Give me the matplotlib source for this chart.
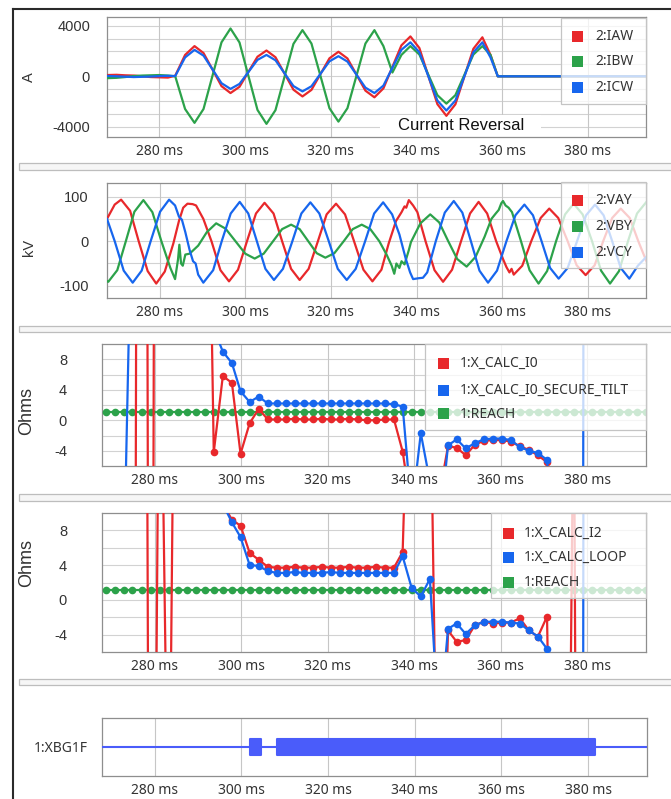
import matplotlib
matplotlib.use("Agg")
import matplotlib.pyplot as plt
from matplotlib.patches import Rectangle

W, H = 671, 799

# %% Data

X_TICKS = [280, 300, 320, 340, 360, 380]

# Panel 1 - currents (A)
T_CUR = [267.7, 270, 272, 274, 276, 278, 280, 282, 283.7, 286.0,
         288.2, 290.3, 292.4, 294.5, 296.6, 298.7, 300.8, 302.9, 305.0, 307.1,
         309.2, 311.3, 313.4, 315.5, 317.6, 319.7, 321.8, 323.9, 326.0, 328.1,
         330.2, 332.3, 334.4, 336.5, 338.6, 340.7, 342.8, 344.9, 347.0, 349.1,
         351.2, 353.3, 355.4, 357.3, 359.0, 393.7]
IAW = [100, 120, 80, 60, 0, -60, -80, -100, 50, 1700,
       2400, 1850, 540, -780, -1330, -835, 360, 1555, 2050, 1515,
       225, -1065, -1600, -1080, 175, 1430, 1950, 1420, 140, -1140,
       -1670, -960, 750, 2460, 3170, 2245, 15, -2215, -3140, -2226,
       -20, 2186, 3100, 1700, 0, 0]
IBW = [-150, -120, -60, 20, 60, 80, 100, 60, 0, -2600,
       -3700, -2600, 50, 2700, 3800, 2690, 10, -2670, -3780, -2690,
       -55, 2580, 3670, 2605, 35, -2535, -3600, -2535, 35, 2605,
       3670, 2400, 300, 1700, 2400, 1730, 115, -1500, -2170, -1500,
       115, 1730, 2400, 1700, 0, 0]
ICW = [30, 0, -30, -60, -40, -20, 20, 40, 20, 1500,
       2100, 1645, 550, -546, -1000, -605, 350, 1305, 1700, 1275,
       250, -775, -1200, -790, 200, 1190, 1600, 1170, 135, -900,
       -1330, -740, 685, 2110, 2700, 1906, -10, -1926, -2720, -1926,
       -10, 1906, 2700, 1500, 0, 0]

# Panel 2 - voltages (kV), (ms, kV) pairs
VAY = [(267.7, 50), (269.5, 82), (271.0, 93), (273.1, 68), (275.1, 0), (277.2, -67),
       (279.2, -95), (281.2, -68), (283.2, -5), (284.5, 45), (285.5, 75), (286.5, 84),
       (287.7, 83), (288.5, 80), (290.2, 50), (292.1, 0), (294.2, -65), (296.2, -90),
       (298.3, -64), (300.4, 0), (302.5, 62), (304.5, 86), (306.6, 62), (308.6, 0),
       (310.7, -62), (312.7, -87), (314.8, -62), (316.9, -2), (319.0, 60), (321.2, 84),
       (323.3, 60), (325.4, 0), (327.6, -64), (329.7, -90), (331.8, -64), (333.5, -5),
       (335.2, 45), (336.5, 65), (337.2, 78), (337.6, 75), (338.2, 92), (339.2, 80),
       (340.2, 65), (342.1, 0), (344.2, -65), (346.2, -91), (348.3, -64), (350.4, 0),
       (352.5, 62), (354.5, 88), (356.5, 62), (358.6, 0), (360.2, -40), (361.0, -58),
       (361.7, -70), (362.2, -62), (362.7, -75), (364.7, -55), (366.8, 0), (369.0, 52),
       (371.0, 73), (373.1, 52), (375.3, 0), (377.4, -54), (379.5, -76), (381.6, -54),
       (383.6, 0), (385.7, 52), (387.7, 73), (389.8, 52), (391.8, 0), (393.7, -45)]
VBY = [(267.7, -90), (268.0, -91), (270.1, -65), (272.1, 0), (274.1, 66), (276.2, 92),
       (278.3, 65), (280.4, 0), (282.5, -60), (283.6, -85), (284.3, -40), (284.6, -8),
       (285.0, -50), (285.4, -55), (286.0, -30), (287.0, -28), (289.0, -10), (291.0, 20),
       (293.2, 40), (295.4, 28), (297.7, 0), (300.0, -28), (302.2, -39), (304.3, -28),
       (306.5, 0), (308.6, 27), (310.7, 37), (312.7, 27), (314.7, 0), (316.7, -27),
       (318.7, -37), (320.8, -27), (323.0, 0), (325.1, 27), (327.2, 37), (329.2, 27),
       (331.3, 0), (333.0, -30), (334.2, -55), (334.8, -73), (335.3, -50), (336.0, -60),
       (336.5, -45), (337.2, -52), (338.2, -20), (338.7, -2), (340.9, 40), (343.2, 60),
       (345.3, 42), (347.4, 0), (349.5, -40), (351.7, -57), (353.8, -35), (355.9, 10),
       (357.5, 50), (358.5, 62), (359.2, 70), (359.8, 85), (360.2, 90), (360.8, 80),
       (361.5, 75), (362.3, 65), (364.4, 0), (366.4, -65), (368.5, -95), (370.5, -67),
       (372.6, 0), (374.7, 60), (376.7, 84), (378.8, 60), (381.0, 0), (383.1, -66),
       (385.2, -95), (387.3, -67), (389.4, 0), (391.5, 62), (393.7, 88)]
VCY = [(267.7, 50), (269.5, 0), (271.6, -66), (273.7, -93), (275.8, -66), (277.9, 0),
       (280.1, 66), (282.2, 93), (283.6, 80), (284.5, 55), (285.2, 48), (286.0, 20),
       (287.0, -20), (287.8, -45), (288.4, -50), (289.0, -75), (290.2, -93), (292.5, -65),
       (294.5, 0), (296.6, 62), (298.7, 88), (300.7, 62), (302.7, 0), (304.7, -62),
       (306.7, -87), (308.8, -62), (311.0, 0), (313.1, 62), (315.2, 87), (317.3, 62),
       (319.5, 0), (321.6, -62), (323.7, -87), (325.8, -62), (328.0, 0), (330.1, 62),
       (332.2, 87), (334.3, 60), (336.0, 15), (337.5, -40), (338.5, -70), (339.2, -85),
       (340.5, -83), (341.5, -82), (342.5, -70), (344.5, 0), (346.6, 64), (348.7, 90),
       (350.7, 64), (352.7, 0), (354.7, -66), (356.7, -93), (358.8, -66), (361.0, 0),
       (363.1, 58), (365.2, 82), (367.2, 58), (369.2, 0), (371.2, -60), (373.2, -84),
       (375.3, -60), (377.5, 0), (379.6, 58), (381.7, 82), (383.7, 58), (385.7, 0),
       (387.7, -60), (389.7, -84), (391.7, -55), (393.7, -35)]

# Panels 3 and 4 - relay calculations (Ohms), one sample every ~2.1 ms
T_CALC = [268.6, 270.7, 272.8, 274.8, 276.9, 279.0, 281.1, 283.2, 285.3, 287.3,
          289.4, 291.5, 293.6, 295.7, 297.8, 299.8, 301.9, 304.0, 306.1, 308.2,
          310.3, 312.3, 314.4, 316.5, 318.6, 320.7, 322.8, 324.8, 326.9, 329.0,
          331.1, 333.2, 335.3, 337.3, 339.4, 341.5, 343.6, 345.7, 347.8, 349.8,
          351.9, 354.0, 356.1, 358.2, 360.3, 362.3, 364.4, 366.5, 368.6, 370.7,
          372.8, 374.8, 376.9, 379.0, 381.1, 383.2, 385.3, 387.3, 389.4, 391.5,
          393.6]
X_CALC_I0 = [-300, -150, -400, -200, 331, -160, 331, 250, 180, 120,
             90, 70, -4.2, 5.8, 4.9, -4.4, -0.4, 1.5, 0.1, 0.1,
             0.1, 0.2, 0.1, 0.1, 0.2, 0.1, 0.1, 0.2, 0.1, 0.0,
             0.0, 0.1, 0.1, -4.1, -12, -30, -20, -10, -3.4, -3.6,
             -4.6, -3.2, -2.7, -2.6, -2.6, -2.8, -3.4, -3.9, -4.6, -5.5,
             -15, -30, -50, -80, -60, -40, -30, -25, -20, -20,
             -20]
X_CALC_I0_SECURE_TILT = [-300, -200, -19.4, 34, 60, 80, 100, 80, 60, 40,
                         30, 20, 12, 9.0, 7.5, 3.8, 2.4, 3.1, 2.2, 2.2,
                         2.2, 2.2, 2.2, 2.2, 2.2, 2.2, 2.2, 2.2, 2.2, 2.2,
                         2.2, 2.2, 2.1, 1.8, -12, -1.7, -8, -15, -3.3, -2.5,
                         -3.7, -3.0, -2.5, -2.4, -2.4, -2.6, -3.5, -4.0, -4.3, -5.2,
                         -20, -30, -50, -40, 900, 500, 300, 200, 150, 100,
                         100]
X_CALC_I2 = [300, 250, 300, 300, 200, -95, 41, -34, 75, 120,
             80, 60, 30, 11, 9.2, 8.5, 5.4, 4.6, 3.8, 3.7,
             3.7, 3.8, 3.7, 3.7, 3.8, 3.7, 3.7, 3.8, 3.7, 3.7,
             3.8, 3.7, 3.7, 5.5, 40, 100, 30, -40, -3.5, -4.8,
             -4.6, -2.9, -2.5, -2.7, -2.6, -2.6, -2.1, -3.5, -4.2, -1.9,
             -60, -80, 28, -200, -150, -100, -80, -60, -50, -40,
             -40]
X_CALC_LOOP = [200, 200, 150, 120, 100, 100, 90, 80, 70, 60,
               50, 40, 25, 11, 8.9, 7.2, 4.0, 3.9, 3.3, 3.1,
               3.1, 3.2, 3.1, 3.1, 3.1, 3.2, 3.1, 3.1, 3.1, 3.1,
               3.1, 3.1, 3.1, 5.0, 1.35, 0.4, 2.4, -15, -3.3, -2.7,
               -3.9, -2.9, -2.5, -2.5, -2.5, -2.6, -2.7, -3.5, -4.2, -5.6,
               -30, -50, -60, -40, 900, 500, 300, 200, 150, 100,
               100]
REACH = 1.1

# Panel 5 - digital element, intervals where it is asserted (ms)
XBG1F_ON = [(302.0, 304.6), (308.3, 381.7)]

# %% Style

RED, GREEN, BLUE = "#e8282b", "#2ca24a", "#1766ee"
DIGITAL = "#4a5cfa"
XLIM = (267.7, 393.6)
TICK_FONT = "Liberation Sans"
UI_FONT = "Noto Sans"
LW = 1.6

fig = plt.figure(figsize=(W / 100, H / 100), dpi=100)


def fx(x):
    return x / W


def fy(y):
    return 1 - y / H


def add_axes_px(left, top, right, bottom):
    return fig.add_axes([fx(left), fy(bottom), (right - left) / W, (bottom - top) / H])


def style_axes(ax, ylim, yticks, hgrid, ypad):
    ax.set_xlim(*XLIM)
    ax.set_ylim(*ylim)
    ax.set_xticks(X_TICKS)
    ax.set_xticklabels([f"{t} ms" for t in X_TICKS], fontfamily=UI_FONT, fontsize=10, color="#333333")
    ax.set_yticks(yticks)
    ax.set_yticklabels([str(v) for v in yticks], fontfamily=TICK_FONT, fontsize=10.5, color="#333333")
    ax.tick_params(axis="x", length=0, pad=5)
    ax.tick_params(axis="y", length=0, pad=ypad)
    for v in hgrid:
        ax.axhline(v, color="#d2d2d2", lw=0.8, zorder=0.5)
    for t in X_TICKS:
        ax.axvline(t, color="#c6c6c6", lw=0.8, zorder=0.5)
    for s in ax.spines.values():
        s.set_color("#8e8e8e")
        s.set_linewidth(0.9)


def draw_legend(box, items, marker_x, text_x, rows_y):
    x0, y0, x1, y1 = box
    fig.add_artist(Rectangle((fx(x0), fy(y1)), (x1 - x0) / W, (y1 - y0) / H,
                             transform=fig.transFigure, facecolor=(1, 1, 1, 0.76),
                             edgecolor="#c4c4c4", lw=0.9, zorder=5))
    for (label, color), y in zip(items, rows_y):
        fig.add_artist(Rectangle((fx(marker_x - 5.5), fy(y + 5.5)), 11 / W, 11 / H,
                                 transform=fig.transFigure, facecolor=color, lw=0, zorder=6))
        fig.text(fx(text_x), fy(y), label, ha="left", va="center", fontsize=10,
                 fontfamily=UI_FONT, color="#333333", zorder=7)


# %% Frame and separators

fig.add_artist(plt.Line2D([fx(12.5), 1], [fy(8.5), fy(8.5)], transform=fig.transFigure, color="#2a2a2a", lw=1.5))
fig.add_artist(plt.Line2D([fx(12.5), fx(12.5)], [fy(8.5), 0], transform=fig.transFigure, color="#2a2a2a", lw=1.5))
for top, bottom in [(163.5, 170.3), (325.5, 331.5), (494, 500.5), (679, 685)]:
    fig.add_artist(Rectangle((fx(18.5), fy(bottom)), 1, (bottom - top) / H, transform=fig.transFigure,
                             facecolor="#f6f6f6", edgecolor="#bdbdbd", lw=0.9))

# %% Panel 1 - currents

ax1 = add_axes_px(106.7, 17.3, 646, 136.7)
style_axes(ax1, (-4800, 4690), [-4000, 0, 4000], range(-4000, 5000, 1000), 12)
ax1.plot(T_CUR, IAW, color=RED, lw=LW, zorder=3)
ax1.plot(T_CUR, IBW, color=GREEN, lw=LW, zorder=3)
ax1.plot(T_CUR, ICW, color=BLUE, lw=LW, zorder=3)
ax1.add_patch(Rectangle((331.6, -4800), 37.6, 1720, facecolor="white", edgecolor="none", zorder=2))
ax1.text(350.4, -3930, "Current Reversal", ha="center", va="center", fontsize=12,
         fontfamily=TICK_FONT, color="#111111", zorder=4)
fig.text(fx(29), fy(77), "A", rotation=90, ha="center", va="center", fontsize=10.5,
         fontfamily=TICK_FONT, color="#333333")
draw_legend((560.7, 18.3, 646, 104), [("2:IAW", RED), ("2:IBW", GREEN), ("2:ICW", BLUE)],
            577, 595, [36.7, 61.7, 87.3])

# %% Panel 2 - voltages

ax2 = add_axes_px(107, 182.7, 646, 298.3)
style_axes(ax2, (-128, 131), [-100, 0, 100], range(-100, 150, 50), 13)
for series, color in [(VAY, RED), (VBY, GREEN), (VCY, BLUE)]:
    t, v = zip(*series)
    ax2.plot(t, v, color=color, lw=LW, zorder=3)
fig.text(fx(29), fy(247), "kV", rotation=90, ha="center", va="center", fontsize=10.5,
         fontfamily=TICK_FONT, color="#333333")
draw_legend((560.5, 182, 646, 268), [("2:VAY", RED), ("2:VBY", GREEN), ("2:VCY", BLUE)],
            577, 595, [200, 226.7, 252])

# %% Panels 3 and 4 - impedance calculations


def impedance_panel(top, bottom, red_vals, blue_vals, label_y, legend_box, names, marker_x, text_x, rows_y):
    ax = add_axes_px(101.8, top, 646, bottom)
    style_axes(ax, (-6, 10), [-4, 0, 4, 8], range(-4, 10, 2), 25)
    ax.plot(T_CALC, [REACH] * len(T_CALC), color=GREEN, lw=LW, marker="o", ms=5.5, mew=0, zorder=3)
    ax.plot(T_CALC, red_vals, color=RED, lw=LW, marker="o", ms=5.5, mew=0, zorder=3)
    ax.plot(T_CALC, blue_vals, color=BLUE, lw=LW, marker="o", ms=5.5, mew=0, zorder=3)
    fig.text(fx(26.7), fy(label_y), "Ohms", rotation=90, ha="center", va="center", fontsize=13,
             fontfamily=TICK_FONT, color="#333333")
    draw_legend(legend_box, list(zip(names, [RED, BLUE, GREEN])), marker_x, text_x, rows_y)
    return ax


ax3 = impedance_panel(344, 466, X_CALC_I0, X_CALC_I0_SECURE_TILT, 410.7, (425, 344, 646, 430),
                      ["1:X_CALC_I0", "1:X_CALC_I0_SECURE_TILT", "1:REACH"], 443.3, 460, [363.3, 390, 414])
ax4 = impedance_panel(512.7, 652.3, X_CALC_I2, X_CALC_LOOP, 563.3, (491, 512.7, 646, 598),
                      ["1:X_CALC_I2", "1:X_CALC_LOOP", "1:REACH"], 508, 524, [533, 557, 582])

# %% Panel 5 - digital

ax5 = add_axes_px(101.5, 718, 647, 776)
style_axes(ax5, (0, 1), [], [], 10)
ax5.set_yticks([0.5])
ax5.set_yticklabels(["1:XBG1F"], fontfamily=UI_FONT, fontsize=10, color="#333333")
ax5.axhline(0.5, color=DIGITAL, lw=1.5, zorder=3)
ax5.broken_barh([(s, e - s) for s, e in XBG1F_ON], (0.36, 0.28), facecolor=DIGITAL,
                edgecolor=DIGITAL, lw=1.5, joinstyle="round", zorder=3)

fig.savefig("out.png", dpi=100)
